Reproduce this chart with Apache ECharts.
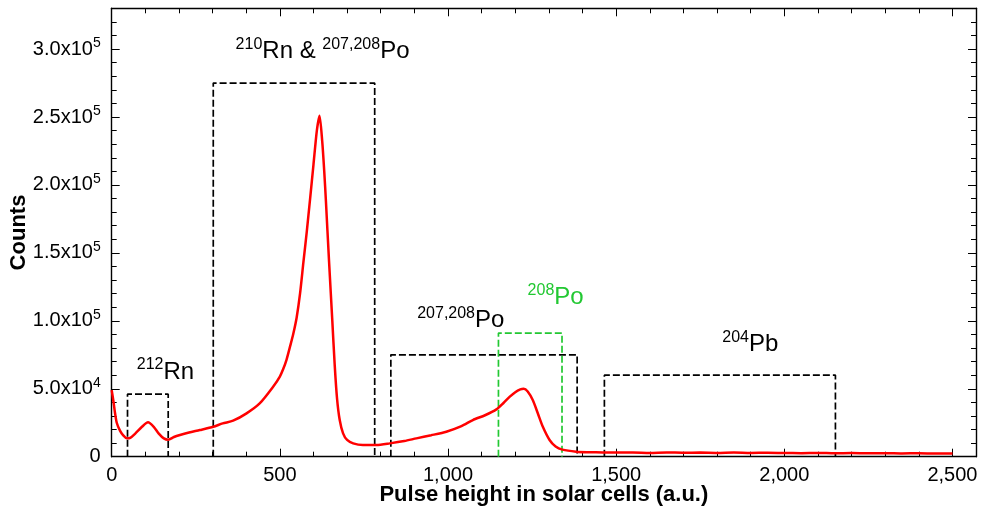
<!DOCTYPE html>
<html>
<head>
<meta charset="utf-8">
<script src="https://cdn.jsdelivr.net/npm/echarts@6/dist/echarts.min.js"></script>
<style>html,body{margin:0;padding:0;background:#fff}#c{width:981px;height:512px}</style>
</head>
<body>
<div id="c"></div>
<script>
// ---- data ----
const pulseX = [0, 5, 10, 15, 25, 35, 45, 55, 70, 90, 108, 125, 140, 155, 168, 185, 203, 230, 262, 302, 330, 361, 401, 440, 480, 500, 510, 520, 530, 540, 550, 560, 570, 580, 590, 600, 610, 618, 626, 632, 637, 646, 656, 663, 670, 678, 688, 700, 718, 747, 787, 827, 870, 906, 950, 995, 1040, 1074, 1110, 1144, 1165, 1183, 1200, 1215, 1225, 1237, 1252, 1267, 1282, 1302, 1320, 1340, 1381, 1420, 1460, 1500, 1550, 1600, 1650, 1700, 1750, 1800, 1850, 1900, 1950, 2000, 2050, 2100, 2150, 2200, 2250, 2300, 2350, 2400, 2450, 2500];
const counts = [49000, 41000, 32000, 25000, 19000, 15500, 13500, 13800, 17000, 22000, 25300, 22000, 17000, 13500, 12500, 14500, 16000, 17800, 19600, 22000, 24500, 26500, 31900, 39200, 51500, 59000, 64500, 71500, 80800, 90500, 102500, 120000, 143000, 165500, 190000, 215000, 240000, 251000, 232000, 210000, 188000, 145000, 100000, 68000, 43000, 27000, 17200, 12300, 9800, 8600, 8600, 9800, 11500, 13500, 15800, 18400, 22500, 27000, 30500, 34800, 39500, 44000, 47500, 49500, 50000, 48000, 41700, 32000, 22000, 12300, 7500, 5200, 3700, 3300, 3100, 3000, 3100, 2800, 3100, 2900, 3000, 2800, 3100, 2800, 2900, 2700, 2600, 2800, 2500, 2700, 2500, 2600, 2400, 2500, 2300, 2400];

const boxLeft  = [47, 302, 830, 1150, 1465];
const boxRight = [168, 782, 1384, 1339, 2152];
const boxTop   = [46000, 275000, 75000, 91000, 60000];

const labelSup  = ['212', '210', '207,208', '208', '204'];
const labelBase = ['Rn', 'Rn & ', 'Po', 'Po', 'Pb'];

const xTickLabels = ['0', '500', '1,000', '1,500', '2,000', '2,500'];
const yTickLabels = ['0', '5.0x10|4', '1.0x10|5', '1.5x10|5', '2.0x10|5', '2.5x10|5', '3.0x10|5'];

// ---- layout / style ----
const FONT = 'Liberation Sans, Arial, sans-serif';
const XMAX = 2570, YMAX = 330000;
const GREEN = '#22c832';
const boxColors = ['#000', '#000', '#000', GREEN, '#000'];
// anchor of each annotation in data coordinates
const anchors = [[160, 62300], [627, 298000], [1038, 100500], [1320, 117000], [1899, 82800]];
const labelColors = ['#000', '#000', '#000', GREEN, '#000'];

const chart = echarts.init(document.getElementById('c'), null, {renderer: 'canvas'});

function xAx(pos, interval, len, labels, line) {
  return {
    type: 'value', position: pos, min: 0, max: XMAX, interval: interval,
    axisLine: {show: line, onZero: false, lineStyle: {color: '#000', width: 1.4}},
    axisTick: {show: true, inside: true, length: len, lineStyle: {color: '#000', width: 1}},
    splitLine: {show: false},
    axisLabel: labels ? {
      show: true, margin: 9, fontFamily: FONT, fontSize: 20, color: '#000',
      formatter: v => { const i = Math.round(v / 500); return (v % 500 === 0 && i < xTickLabels.length) ? xTickLabels[i] : ''; }
    } : {show: false},
    name: labels ? 'Pulse height in solar cells (a.u.)' : '',
    nameLocation: 'middle', nameGap: 27, nameMoveOverlap: false,
    nameTextStyle: {fontFamily: FONT, fontSize: 22, fontWeight: 'bold', color: '#000'}
  };
}
function yAx(pos, interval, len, labels, line) {
  return {
    type: 'value', position: pos, min: 0, max: YMAX, interval: interval,
    axisLine: {show: line, onZero: false, lineStyle: {color: '#000', width: 1.4}},
    axisTick: {show: true, inside: true, length: len, lineStyle: {color: '#000', width: 1}},
    splitLine: {show: false},
    axisLabel: labels ? {
      show: true, margin: 11, fontFamily: FONT, color: '#000',
      formatter: v => {
        const i = Math.round(v / 50000);
        if (v % 50000 !== 0 || i >= yTickLabels.length) return '';
        const p = yTickLabels[i].split('|');
        return p.length > 1 ? '{b|' + p[0] + '}{s|' + p[1] + '}' : '{b|' + p[0] + '}';
      },
      rich: {
        b: {fontFamily: FONT, fontSize: 20, color: '#000', lineHeight: 26, verticalAlign: 'middle'},
        s: {fontFamily: FONT, fontSize: 14, color: '#000', lineHeight: 16, verticalAlign: 'top'}
      }
    } : {show: false},
    name: labels ? 'Counts' : '',
    nameLocation: 'middle', nameGap: 82, nameMoveOverlap: false,
    nameTextStyle: {fontFamily: FONT, fontSize: 22, fontWeight: 'bold', color: '#000'}
  };
}

const series = [{
  type: 'line', xAxisIndex: 0, yAxisIndex: 0,
  data: pulseX.map((x, i) => [x, counts[i]]),
  showSymbol: false, symbol: 'none', smooth: 0.25,
  lineStyle: {color: '#ff0000', width: 2.5}, z: 5, silent: true
}];
boxLeft.forEach((l, i) => {
  series.push({
    type: 'line', xAxisIndex: 0, yAxisIndex: 0, symbol: 'none', silent: true,
    data: [[l, 0], [l, boxTop[i]], [boxRight[i], boxTop[i]], [boxRight[i], 0]],
    lineStyle: {color: boxColors[i], width: 1.7, type: [7, 3]}, z: 3
  });
});
series.push({
  type: 'scatter', xAxisIndex: 0, yAxisIndex: 0, symbolSize: 0, silent: true,
  itemStyle: {opacity: 1},
  data: anchors.map((a, i) => ({value: a, label: {rich: {
    s: {fontFamily: FONT, fontSize: 16, color: labelColors[i], lineHeight: 16, verticalAlign: 'top'},
    b: {fontFamily: FONT, fontSize: 24, color: labelColors[i], lineHeight: 30, verticalAlign: 'middle'}
  }}})),
  label: {
    show: true, position: [0, 0], align: 'center', verticalAlign: 'middle',
    color: '#000', textBorderWidth: 0, opacity: 1,
    formatter: p => {
      const i = p.dataIndex;
      if (i === 1) return '{s|' + labelSup[1] + '}{b|' + labelBase[1] + '}{s|' + labelSup[2] + '}{b|Po}';
      return '{s|' + labelSup[i] + '}{b|' + labelBase[i] + '}';
    }
  }
});

chart.setOption({
  animation: false,
  backgroundColor: '#fff',
  grid: {left: 111.7, right: 5, top: 8.3, bottom: 55.3, containLabel: false, outerBoundsMode: 'none'},
  xAxis: [xAx('bottom', 500, 8, true, true), xAx('bottom', 100, 5, false, false),
          xAx('top', 500, 8, false, true), xAx('top', 100, 5, false, false)],
  yAxis: [yAx('left', 50000, 8, true, true), yAx('left', 10000, 5, false, false),
          yAx('right', 50000, 8, false, true), yAx('right', 10000, 5, false, false)],
  series: series
});
</script>
</body>
</html>
